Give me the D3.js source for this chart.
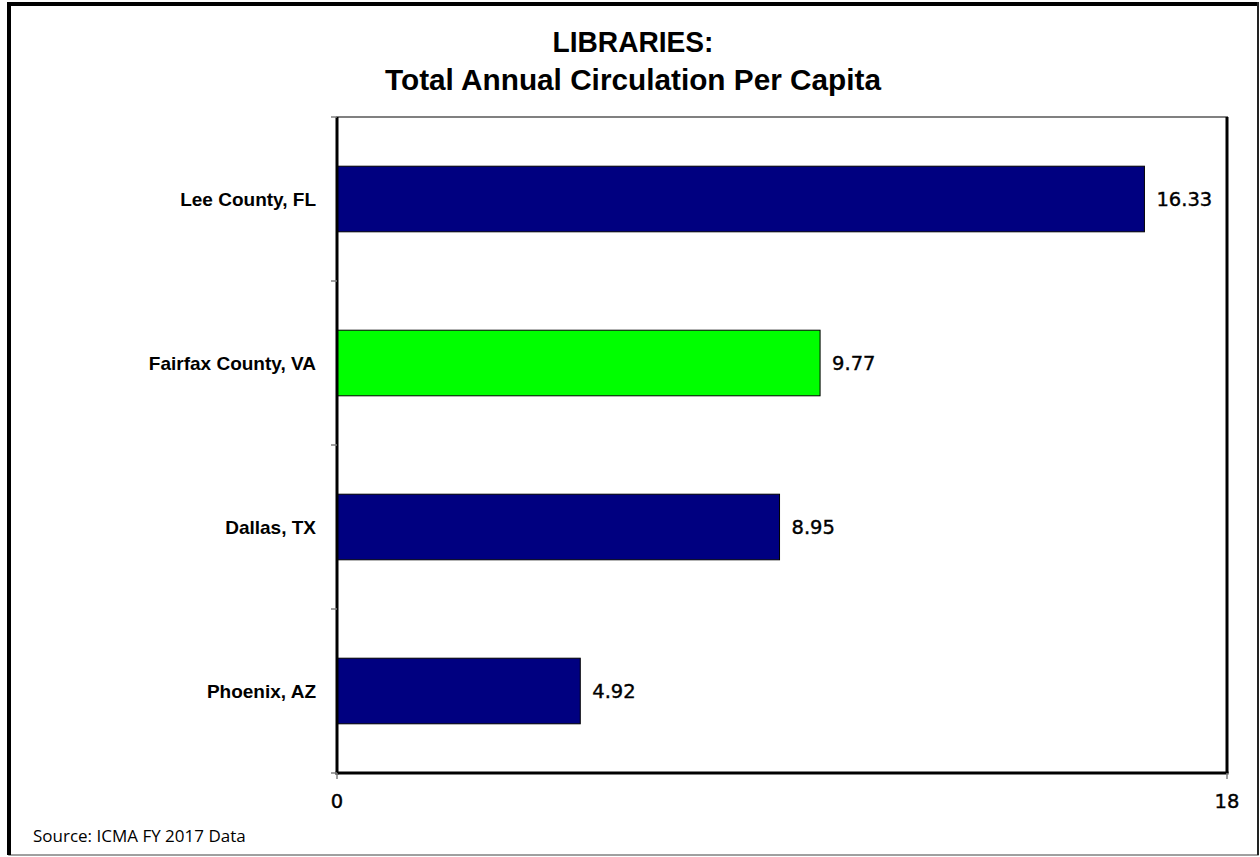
<!DOCTYPE html>
<html>
<head>
<meta charset="utf-8">
<script src="https://cdn.jsdelivr.net/npm/d3@7"></script>
<style>
  body { margin: 0; background: #fff; }
  svg { display: block; }
</style>
</head>
<body>
<div id="chart"></div>
<script>
// chart data
var categories = ["Lee County, FL", "Fairfax County, VA", "Dallas, TX", "Phoenix, AZ"];
var values = [16.33, 9.77, 8.95, 4.92];
var barColors = ["#000080", "#00FF00", "#000080", "#000080"];
var xTicks = [0, 18];
var titleLines = ["LIBRARIES:", "Total Annual Circulation Per Capita"];
var sourceText = "Source: ICMA FY 2017 Data";

var W = 1260, H = 857;
var margin = { top: 117, right: 33, bottom: 84, left: 337 };
var width = W - margin.left - margin.right,
    height = H - margin.top - margin.bottom;

var svg = d3.select("#chart").append("svg")
  .attr("width", W)
  .attr("height", H);

// outer frame
svg.append("rect")
  .attr("x", 9).attr("y", 4)
  .attr("width", 1249).attr("height", 851)
  .attr("fill", "none")
  .attr("stroke", "#808080")
  .attr("stroke-width", 1.5);
svg.append("line")
  .attr("x1", 7).attr("x2", 1259).attr("y1", 4).attr("y2", 4)
  .attr("stroke", "#000").attr("stroke-width", 4);
svg.append("line")
  .attr("x1", 9).attr("x2", 9).attr("y1", 2).attr("y2", 855)
  .attr("stroke", "#000").attr("stroke-width", 4);
svg.append("line")
  .attr("x1", 1258).attr("x2", 1258).attr("y1", 2).attr("y2", 855)
  .attr("stroke", "#222").attr("stroke-width", 2);

// title (widths stretched to match the condensed original font)
var titleWidths = [161, 496];
svg.append("g").selectAll("text")
  .data(titleLines)
  .enter().append("text")
  .attr("x", 633)
  .attr("y", function(d, i) { return 52 + i * 38; })
  .attr("text-anchor", "middle")
  .attr("font-family", "'Liberation Sans', Arial, sans-serif")
  .attr("font-weight", "bold")
  .attr("font-size", 29)
  .attr("textLength", function(d, i) { return titleWidths[i]; })
  .attr("lengthAdjust", "spacingAndGlyphs")
  .attr("fill", "#000")
  .text(function(d) { return d; });

var g = svg.append("g")
  .attr("transform", "translate(" + margin.left + "," + margin.top + ")");

// scales
var x = d3.scaleLinear().domain([0, 18]).range([0, width]);
var y = d3.scaleBand().domain(categories).range([0, height])
  .paddingInner(0.6).paddingOuter(0.3);

// plot frame
g.append("rect")
  .attr("width", width).attr("height", height)
  .attr("fill", "none")
  .attr("stroke", "#808080")
  .attr("stroke-width", 2);

// bars
g.selectAll(".bar")
  .data(values)
  .enter().append("rect")
  .attr("class", "bar")
  .attr("x", x(0))
  .attr("y", function(d, i) { return y(categories[i]); })
  .attr("width", function(d) { return x(d) - x(0); })
  .attr("height", y.bandwidth())
  .attr("fill", function(d, i) { return barColors[i]; })
  .attr("stroke", "#000")
  .attr("stroke-width", 1);

// value labels
g.selectAll(".val")
  .data(values)
  .enter().append("text")
  .attr("class", "val")
  .attr("x", function(d) { return x(d) + 12; })
  .attr("y", function(d, i) { return y(categories[i]) + y.bandwidth() / 2; })
  .attr("dy", "0.36em")
  .attr("font-family", "'DejaVu Sans', Verdana, sans-serif")
  .attr("font-size", 19.5)
  .attr("fill", "#000")
  .attr("stroke", "#000")
  .attr("stroke-width", 0.4)
  .text(function(d) { return d.toFixed(2); });

// black axis/frame lines
g.append("line")
  .attr("x1", 0).attr("x2", 0).attr("y1", 0).attr("y2", height + 1.5)
  .attr("stroke", "#000").attr("stroke-width", 3);
g.append("line")
  .attr("x1", -1.5).attr("x2", width + 1.5).attr("y1", height).attr("y2", height)
  .attr("stroke", "#000").attr("stroke-width", 3);
g.append("line")
  .attr("x1", width).attr("x2", width).attr("y1", 0).attr("y2", height)
  .attr("stroke", "#000").attr("stroke-width", 3);

// y category boundary ticks
var boundaries = categories.map(function(c) { return y(c) - y.step() * y.paddingInner() / 2; });
boundaries.push(height);
g.selectAll(".ytick")
  .data(boundaries)
  .enter().append("line")
  .attr("class", "ytick")
  .attr("x1", -6).attr("x2", 0)
  .attr("y1", function(d) { return d; })
  .attr("y2", function(d) { return d; })
  .attr("stroke", "#808080").attr("stroke-width", 1.5);

// y labels
g.selectAll(".ylab")
  .data(categories)
  .enter().append("text")
  .attr("class", "ylab")
  .attr("x", -21)
  .attr("y", function(d) { return y(d) + y.bandwidth() / 2; })
  .attr("dy", "0.36em")
  .attr("text-anchor", "end")
  .attr("font-family", "'Liberation Sans', Arial, sans-serif")
  .attr("font-weight", "bold")
  .attr("font-size", 19)
  .attr("fill", "#000")
  .text(function(d) { return d; });

// x axis ticks and labels
var xAxis = g.append("g")
  .attr("transform", "translate(0," + height + ")");
xAxis.selectAll(".xtick")
  .data(xTicks)
  .enter().append("line")
  .attr("x1", function(d) { return x(d); })
  .attr("x2", function(d) { return x(d); })
  .attr("y1", 0).attr("y2", 6)
  .attr("stroke", "#808080").attr("stroke-width", 1.5);
xAxis.selectAll(".xlab")
  .data(xTicks)
  .enter().append("text")
  .attr("x", function(d) { return x(d); })
  .attr("y", 35)
  .attr("text-anchor", "middle")
  .attr("font-family", "'DejaVu Sans', Verdana, sans-serif")
  .attr("font-size", 19.5)
  .attr("fill", "#000")
  .attr("stroke", "#000")
  .attr("stroke-width", 0.4)
  .text(function(d) { return d; });

// source note
svg.append("text")
  .attr("x", 33)
  .attr("y", 842)
  .attr("font-family", "'Open Sans', sans-serif")
  .attr("font-size", 17)
  .attr("fill", "#000")
  .text(sourceText);
</script>
</body>
</html>
